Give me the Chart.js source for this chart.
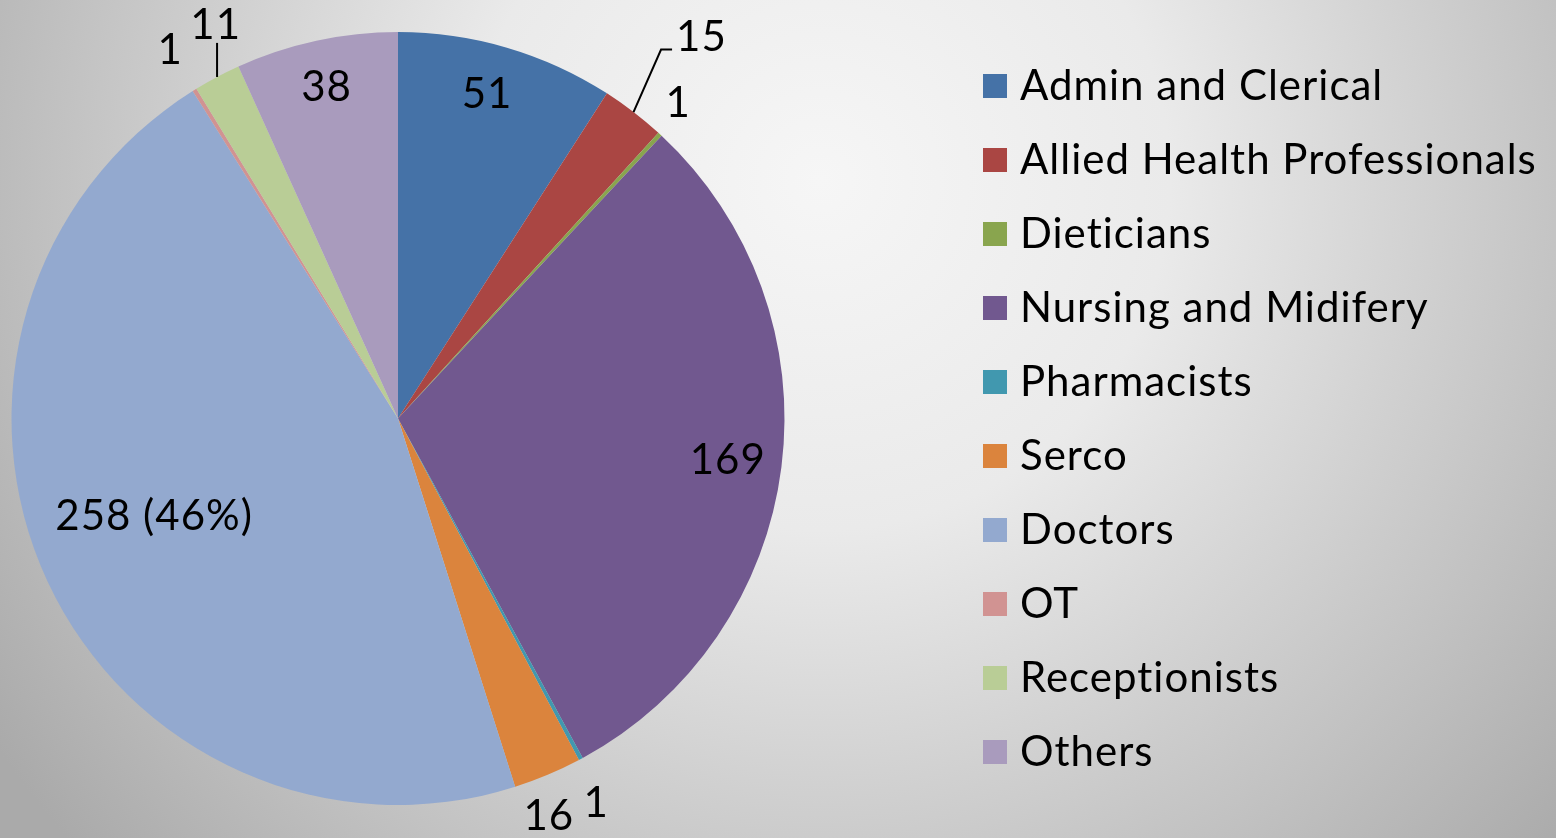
<!DOCTYPE html>
<html>
<head>
<meta charset="utf-8">
<script src="https://cdn.jsdelivr.net/npm/chart.js@4.4.0/dist/chart.umd.min.js"></script>
<style>
  html, body { margin: 0; padding: 0; background: #d8d8d8; }
  #wrap { width: 1556px; height: 838px; }
</style>
</head>
<body>
<div id="wrap"><canvas id="pie"></canvas></div>
<script>
const categories = ['Admin and Clerical', 'Allied Health Professionals', 'Dieticians', 'Nursing and Midifery',
  'Pharmacists', 'Serco', 'Doctors', 'OT', 'Receptionists', 'Others'];
const counts = [51, 15, 1, 169, 1, 16, 258, 1, 11, 38];
const sliceColors = ['#4572A7', '#AA4643', '#89A54E', '#71588F', '#4198AF',
  '#DB843D', '#93A9CF', '#D19392', '#B9CD96', '#A99BBD'];
// label text for each slice (Doctors shows share too)
const valueLabels = ['51', '15', '1', '169', '1', '16', '258 (46%)', '1', '11', '38'];

const FONT = '42px Lato';

// where each label sits, as a fraction of the radius; angle nudge in degrees; leader line
const labelRadius = [0.87, 1.26, 1.09, 0.86, 1.12, 1.10, 0.68, 1.12, 1.12, 0.875];
const labelNudge = [-1, 1, -1, 0, 1, 2, 3, 0, 3, 0];
const leaderLine = [false, true, false, false, false, false, false, false, true, false];

const backgroundPlugin = {
  id: 'bg',
  beforeDraw(chart) {
    const ctx = chart.ctx;
    const g = ctx.createRadialGradient(820, 180, 0, 820, 180, 1000);
    g.addColorStop(0, '#f6f6f6');
    g.addColorStop(0.35, '#eaeaea');
    g.addColorStop(1, '#aaaaaa');
    ctx.save();
    ctx.fillStyle = g;
    ctx.fillRect(0, 0, chart.width, chart.height);
    ctx.restore();
  }
};

const labelPlugin = {
  id: 'sliceLabels',
  afterDatasetsDraw(chart) {
    const ctx = chart.ctx;
    const arcs = chart.getDatasetMeta(0).data;
    ctx.save();
    ctx.font = FONT;
    ctx.letterSpacing = '1px';
    ctx.fillStyle = '#000';
    ctx.textAlign = 'center';
    ctx.textBaseline = 'middle';
    arcs.forEach((arc, i) => {
      const mid = (arc.startAngle + arc.endAngle) / 2 + labelNudge[i] * Math.PI / 180;
      const r = arc.outerRadius * labelRadius[i];
      const x = arc.x + Math.cos(mid) * r;
      const y = arc.y + Math.sin(mid) * r;
      ctx.fillText(valueLabels[i], x, y);
      if (leaderLine[i]) {
        const edgeAng = (arc.startAngle + arc.endAngle) / 2;
        const ex = arc.x + Math.cos(edgeAng) * arc.outerRadius;
        const ey = arc.y + Math.sin(edgeAng) * arc.outerRadius;
        const w = ctx.measureText(valueLabels[i]).width;
        ctx.strokeStyle = '#000';
        ctx.lineWidth = 2;
        ctx.beginPath();
        if (Math.abs(ex - x) < w / 2) {
          ctx.moveTo(ex, ey);
          ctx.lineTo(ex, y + 17);
        } else {
          const lx = x - w / 2 - 4;
          ctx.moveTo(ex, ey);
          ctx.lineTo(lx - 11, y + 12);
          ctx.lineTo(lx, y + 12);
        }
        ctx.stroke();
      }
    });
    ctx.restore();
  }
};

const legendPlugin = {
  id: 'sideLegend',
  afterDraw(chart) {
    const ctx = chart.ctx;
    ctx.save();
    ctx.font = FONT;
    ctx.letterSpacing = '1px';
    ctx.textAlign = 'left';
    ctx.textBaseline = 'middle';
    categories.forEach((name, i) => {
      const cy = 86 + i * 74;
      ctx.fillStyle = sliceColors[i];
      ctx.fillRect(983, cy - 12, 24, 24);
      ctx.fillStyle = '#000';
      ctx.fillText(name, 1020, cy);
    });
    ctx.restore();
  }
};

new Chart(document.getElementById('pie'), {
  type: 'pie',
  data: {
    labels: categories,
    datasets: [{
      data: counts,
      backgroundColor: sliceColors,
      borderWidth: 0,
      hoverOffset: 0
    }]
  },
  options: {
    responsive: true,
    maintainAspectRatio: false,
    animation: false,
    layout: { padding: { left: 11, top: 32, right: 771, bottom: 33 } },
    plugins: {
      legend: { display: false },
      tooltip: { enabled: false }
    }
  },
  plugins: [backgroundPlugin, labelPlugin, legendPlugin]
});
</script>
</body>
</html>
